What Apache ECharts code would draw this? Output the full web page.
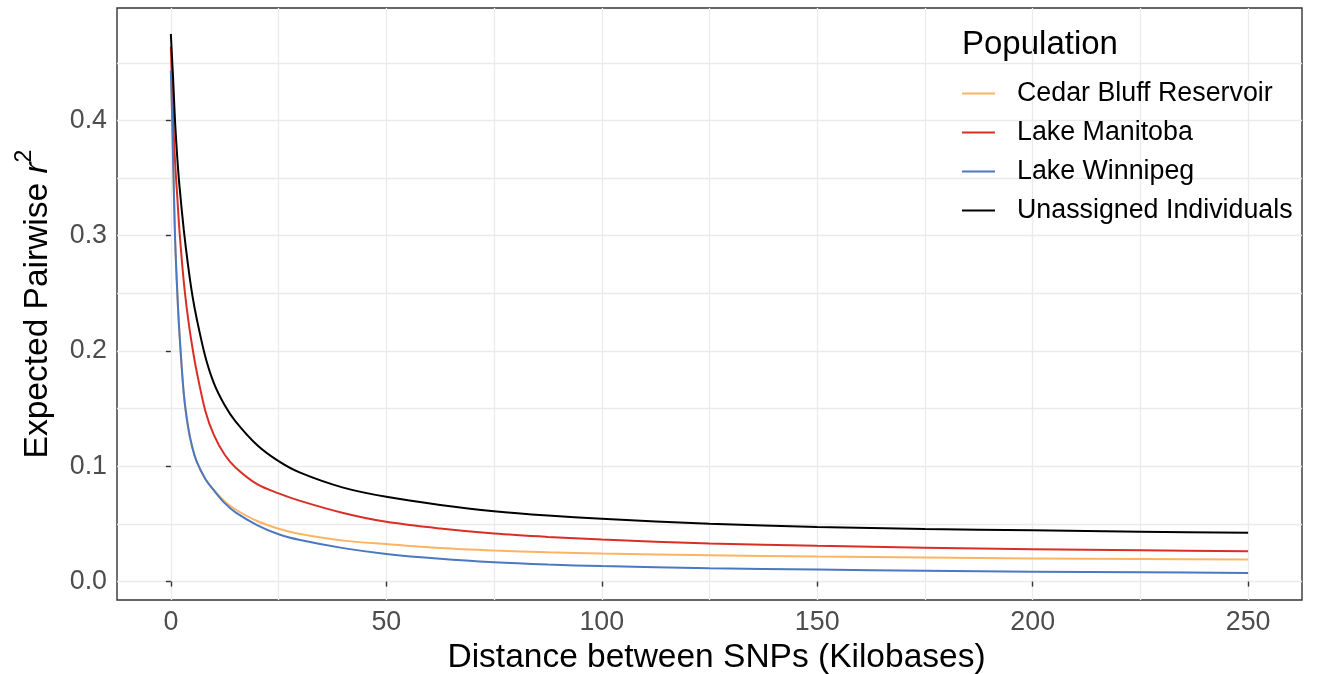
<!DOCTYPE html>
<html>
<head>
<meta charset="utf-8">
<script src="https://cdn.jsdelivr.net/npm/echarts@6/dist/echarts.min.js"></script>
<style>
html,body{margin:0;padding:0;background:#fff;}
#chart{width:1320px;height:674px;}
</style>
</head>
<body>
<div id="chart"></div>
<script>
// Distance between SNPs (kb) at which values were read
const distances = [0, 0.25, 0.5, 0.75, 1, 1.5, 2, 3, 4, 5, 6, 8, 10, 12.5, 15, 20, 25, 30, 40, 50, 62.5, 75, 87.5, 100, 125, 150, 175, 200, 225, 250];

const seriesNames = ['Cedar Bluff Reservoir', 'Lake Manitoba', 'Lake Winnipeg', 'Unassigned Individuals'];

const cedarBluff = [0.443, 0.41, 0.37, 0.33, 0.295, 0.25, 0.215, 0.163, 0.134, 0.116, 0.104, 0.089, 0.0795, 0.0695, 0.0625, 0.0525, 0.0458, 0.0412, 0.0355, 0.0325, 0.0292, 0.0270, 0.0254, 0.0243, 0.0228, 0.0217, 0.0208, 0.0200, 0.0195, 0.0191];
const lakeManitoba = [0.464, 0.432, 0.405, 0.382, 0.362, 0.333, 0.304, 0.260, 0.228, 0.203, 0.182, 0.148, 0.127, 0.110, 0.099, 0.0845, 0.0765, 0.070, 0.0595, 0.0518, 0.0460, 0.0416, 0.0387, 0.0365, 0.0330, 0.0310, 0.0294, 0.0281, 0.0271, 0.0263];
const lakeWinnipeg = [0.443, 0.41, 0.37, 0.33, 0.295, 0.25, 0.215, 0.163, 0.134, 0.116, 0.104, 0.089, 0.079, 0.068, 0.060, 0.049, 0.041, 0.036, 0.029, 0.024, 0.0198, 0.0168, 0.0148, 0.0134, 0.0116, 0.0104, 0.0094, 0.0086, 0.0080, 0.0075];
const unassigned = [0.475, 0.456, 0.438, 0.417, 0.397, 0.367, 0.343, 0.305, 0.274, 0.248, 0.228, 0.195, 0.172, 0.153, 0.139, 0.1185, 0.1045, 0.0945, 0.0815, 0.0735, 0.0665, 0.0610, 0.0572, 0.0544, 0.0502, 0.0473, 0.0456, 0.0444, 0.0432, 0.0423];

const xTickLabels = [0, 50, 100, 150, 200, 250];
const yTickLabels = [0.0, 0.1, 0.2, 0.3, 0.4];
const xGridValues = [0, 25, 50, 75, 100, 125, 150, 175, 200, 225, 250];
const yGridValues = [0, 0.05, 0.1, 0.15, 0.2, 0.25, 0.3, 0.35, 0.4, 0.45];

const colors = ['#FDB462', '#D92E26', '#4A78C2', '#000000'];
const FONT = "'Liberation Sans', Arial, Helvetica, sans-serif";

const allValues = [cedarBluff, lakeManitoba, lakeWinnipeg, unassigned];

const chart = echarts.init(document.getElementById('chart'), null, {renderer: 'canvas'});

const series = allValues.map((vals, i) => ({
  name: seriesNames[i],
  type: 'line',
  xAxisIndex: 0,
  yAxisIndex: 0,
  data: distances.map((d, j) => [d, vals[j]]),
  showSymbol: false,
  smooth: 0.3,
  lineStyle: {color: colors[i], width: 2},
  itemStyle: {color: colors[i]},
  z: 2 + i,
  silent: true,
  animation: false
}));

const XMIN = -12.5, XMAX = 262.5, YMIN = -0.016, YMAX = 0.4975;
const gridLine = {show: true, lineStyle: {color: '#EBEBEB', width: 1.3}};

chart.setOption({
  animation: false,
  backgroundColor: '#ffffff',
  grid: {
    left: 117, right: 18, top: 8, bottom: 74,
    outerBoundsMode: 'none',
    containLabel: false,
    show: true, borderColor: '#333333', borderWidth: 1.4,
    backgroundColor: 'transparent'
  },
  xAxis: [{
    type: 'value',
    min: XMIN, max: XMAX,
    name: 'Distance between SNPs (Kilobases)',
    nameLocation: 'middle',
    nameGap: 37,
    nameTextStyle: {fontFamily: FONT, fontSize: 33.5, color: '#000', padding: [0, 0, 0, 14]},
    axisLine: {show: false},
    axisTick: {show: true, length: 5, lineStyle: {color: '#333', width: 1.4}, customValues: xTickLabels},
    axisLabel: {fontFamily: FONT, fontSize: 26.8, color: '#4D4D4D', margin: 9, customValues: xTickLabels,
      formatter: v => String(v)},
    splitLine: {show: false}
  }, {
    type: 'value',
    min: XMIN, max: XMAX,
    position: 'bottom',
    axisLine: {show: false},
    axisLabel: {show: false, customValues: xGridValues},
    axisTick: {show: false, customValues: xGridValues},
    splitLine: gridLine
  }],
  yAxis: [{
    type: 'value',
    min: YMIN, max: YMAX,
    name: '{a|Expected Pairwise }{i|r}{s|2}',
    nameLocation: 'middle',
    nameRotate: 90,
    nameGap: 62,
    nameTextStyle: {
      fontFamily: FONT, fontSize: 33.5, color: '#000',
      rich: {
        a: {fontFamily: FONT, fontSize: 33.5, color: '#000', lineHeight: 42, verticalAlign: 'bottom'},
        i: {fontFamily: FONT, fontSize: 33.5, fontStyle: 'italic', color: '#000', lineHeight: 42, verticalAlign: 'bottom'},
        s: {fontFamily: FONT, fontSize: 23, color: '#000', lineHeight: 42, verticalAlign: 'top'}
      }
    },
    axisLine: {show: false},
    axisTick: {show: true, length: 5, lineStyle: {color: '#333', width: 1.4}, customValues: yTickLabels},
    axisLabel: {fontFamily: FONT, fontSize: 26.8, color: '#4D4D4D', margin: 10, customValues: yTickLabels,
      formatter: v => v.toFixed(1)},
    splitLine: {show: false}
  }, {
    type: 'value',
    min: YMIN, max: YMAX,
    position: 'left',
    axisLine: {show: false},
    axisLabel: {show: false, customValues: yGridValues},
    axisTick: {show: false, customValues: yGridValues},
    splitLine: gridLine
  }],
  legend: {
    show: true,
    orient: 'vertical',
    left: 962, top: 78,
    padding: 0,
    data: seriesNames,
    icon: 'rect',
    itemWidth: 33, itemHeight: 2.2,
    itemGap: 8,
    textStyle: {fontFamily: FONT, fontSize: 26.8, color: '#000', lineHeight: 31, padding: [0, 0, 0, 17]},
    selectedMode: false
  },
  graphic: [{
    type: 'text', left: 962, top: 28,
    style: {text: 'Population', font: "33px 'Liberation Sans', Arial, sans-serif", fill: '#000'}
  }],
  series: series
});
</script>
</body>
</html>
